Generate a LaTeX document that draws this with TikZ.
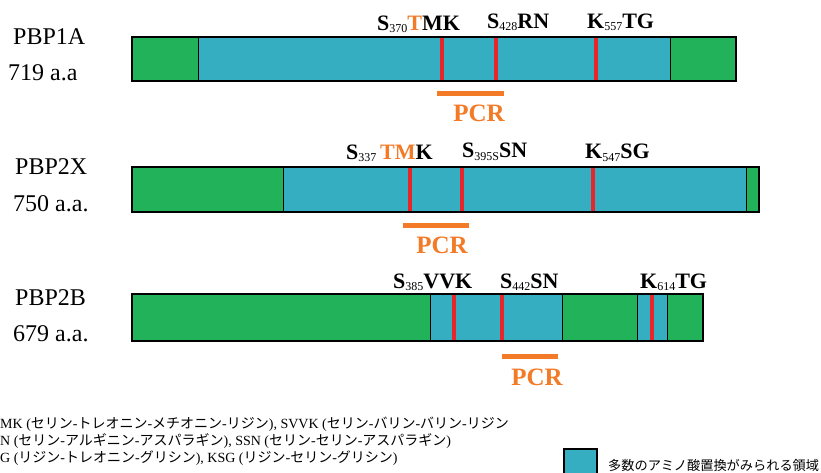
\documentclass[tikz,border=0pt]{standalone}
\usepackage{fontspec}
\setmainfont{Liberation Serif}
\newfontfamily\jpfont{Noto Sans CJK JP}
\definecolor{pbgreen}{RGB}{34,178,90}
\definecolor{pbcyan}{RGB}{52,174,192}
\definecolor{pbred}{RGB}{232,38,42}
\definecolor{pborange}{RGB}{243,122,38}
\newcommand\pbsub[1]{\raisebox{-2pt}{\mdseries\fontsize{12}{12}\selectfont #1}}
\newcommand\jp[1]{{\jpfont #1}}
\tikzset{
  protname/.style={inner sep=0pt, anchor=base west, font=\fontsize{24}{24}\selectfont},
  motif/.style={inner sep=0pt, anchor=base west, font=\fontsize{22}{22}\selectfont\bfseries},
  pcrtext/.style={inner sep=0pt, anchor=base, text=pborange, font=\fontsize{25}{25}\selectfont\bfseries},
  pcrbar/.style={draw=pborange, line width=5pt},
  redmark/.style={draw=pbred, line width=3.5pt},
  divider/.style={draw=black, line width=1pt},
  barframe/.style={draw=black, line width=2pt},
  note/.style={inner sep=0pt, anchor=base west, font=\fontsize{14}{14}\selectfont},
}
\begin{document}
\begin{tikzpicture}[x=1pt,y=-1pt]
\useasboundingbox (0,0) rectangle (821,473);
\fill[white] (0,0) rectangle (821,473);

% ---------- PBP1A ----------
\foreach \a/\b/\c in {132/198/pbgreen,198/670/pbcyan,670/736/pbgreen}
  \fill[\c] (\a,37) rectangle (\b,81);
\foreach \x in {198,670} \draw[divider] (\x,37) -- (\x,81);
\foreach \x in {442,496,596} \draw[redmark] (\x,38) -- (\x,80);
\draw[barframe] (132,37) rectangle (736,81);
\node[protname] (n1a) at (13,45) {PBP1A};
\node[protname] (l1a) at (8,81) {719 a.a};
\node[motif] (m1a1) at (377,31) {S\pbsub{370}\textcolor{pborange}{T}MK};
\node[motif] (m1a2) at (487,29) {S\pbsub{428}RN};
\node[motif] (m1a3) at (587,29) {K\pbsub{557}TG};
\coordinate (p1a) at (437,94);
\coordinate (q1a) at (504,94);
\draw[pcrbar] (p1a) -- (q1a);
\node[pcrtext] (t1a) at (479,122) {PCR};

% ---------- PBP2X ----------
\foreach \a/\b/\c in {132/283/pbgreen,283/746/pbcyan,746/759/pbgreen}
  \fill[\c] (\a,167) rectangle (\b,212);
\foreach \x in {283,746} \draw[divider] (\x,167) -- (\x,212);
\foreach \x in {410,462,593} \draw[redmark] (\x,168) -- (\x,211);
\draw[barframe] (132,167) rectangle (759,212);
\node[protname] (n2x) at (15,175) {PBP2X};
\node[protname] (l2x) at (13,211) {750 a.a.};
\node[motif] (m2x1) at (346,160) {S\pbsub{337}\,\textcolor{pborange}{TM}K};
\node[motif] (m2x2) at (462,158) {S\pbsub{395S}SN};
\node[motif] (m2x3) at (585,159) {K\pbsub{547}SG};
\coordinate (p2x) at (403,225);
\coordinate (q2x) at (469,225);
\draw[pcrbar] (p2x) -- (q2x);
\node[pcrtext] (t2x) at (442,253) {PCR};

% ---------- PBP2B ----------
\foreach \a/\b/\c in {132/430/pbgreen,430/562/pbcyan,562/637/pbgreen,637/667/pbcyan,667/703/pbgreen}
  \fill[\c] (\a,294) rectangle (\b,341);
\foreach \x in {430,562,637,667} \draw[divider] (\x,294) -- (\x,341);
\foreach \x in {454,502,652} \draw[redmark] (\x,295) -- (\x,340);
\draw[barframe] (132,294) rectangle (703,341);
\node[protname] (n2b) at (15,305) {PBP2B};
\node[protname] (l2b) at (13,341) {679 a.a.};
\node[motif] (m2b1) at (393,288) {S\pbsub{385}VVK};
\node[motif] (m2b2) at (500,288) {S\pbsub{442}SN};
\node[motif] (m2b3) at (640,288) {K\pbsub{614}TG};
\coordinate (p2b) at (502,356);
\coordinate (q2b) at (558,356);
\draw[pcrbar] (p2b) -- (q2b);
\node[pcrtext] (t2b) at (537,385) {PCR};

% ---------- notes ----------
\node[note] (nt1) at (0,428) {MK (\jp{セリン}-\jp{トレオニン}-\jp{メチオニン}-\jp{リジン}), SVVK (\jp{セリン}-\jp{バリン}-\jp{バリン}-\jp{リジン}};
\node[note] (nt2) at (0,445) {N (\jp{セリン}-\jp{アルギニン}-\jp{アスパラギン}), SSN (\jp{セリン}-\jp{セリン}-\jp{アスパラギン})};
\node[note] (nt3) at (0,462) {G (\jp{リジン}-\jp{トレオニン}-\jp{グリシン}), KSG (\jp{リジン}-\jp{セリン}-\jp{グリシン})};

% ---------- legend ----------
\draw[barframe, fill=pbcyan] (564,449) rectangle (597,485);
\node[inner sep=0pt, anchor=base west, font=\jpfont\fontsize{13.2}{13.2}\selectfont] (lg) at (608,470) {多数のアミノ酸置換がみられる領域};
\end{tikzpicture}
\end{document}
